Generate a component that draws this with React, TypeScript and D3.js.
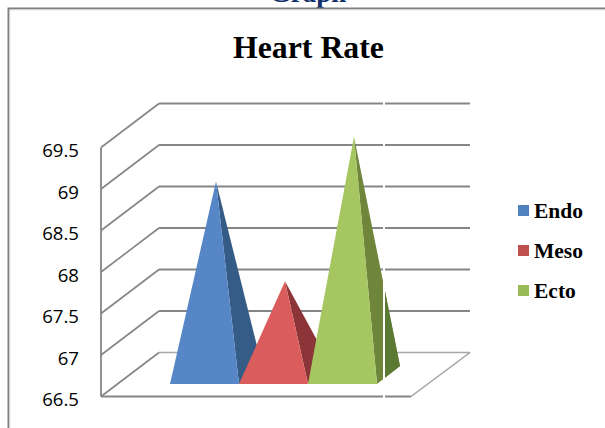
import * as d3 from "d3";

const categories = ["Endo", "Meso", "Ecto"];
const values = [68.83, 67.63, 69.37];
const yTicks = [66.5, 67, 67.5, 68, 68.5, 69, 69.5];
const tickLabels = ["66.5", "67", "67.5", "68", "68.5", "69", "69.5"];
const legendColors = ["#4F81BD", "#C0504D", "#9BBB59"];
const frontColors = ["#5686C6", "#DA5C5C", "#A5C660"];
const sideColors = ["#355B87", "#8B3538", "#6E853A"];

const width = 605;
const height = 428;

// 3d look: how far the back wall is shifted from the front axis
const wallDx = 58;
const wallDy = -44;
// same thing for the pyramid footprint
const baseDx = 23;
const baseDy = -18;
const baseY = 384;

const gridColor = "#858585";

export default function App() {
  const y = d3.scaleLinear().domain([66.5, 69.5]).range([396.5, 147.5]);
  const x = d3.scaleBand<string>().domain(categories).range([170, 377]).padding(0);
  const poly = d3.line<[number, number]>().curve(d3.curveLinearClosed);

  const axisX = 101;
  const backX = axisX + wallDx;
  const rightX = 470;
  const gapX = 384;

  // apex sits above the middle of the footprint
  const pyramids = categories.map((c, i) => {
    const x0 = x(c) as number;
    const x1 = x0 + x.bandwidth();
    const apexX = (x0 + x1) / 2 + baseDx / 2;
    const apexY = baseY + baseDy / 2 - (y(66.5) - y(values[i]));
    return {
      name: c,
      front: poly([[x0, baseY], [x1, baseY], [apexX, apexY]]) as string,
      side: poly([[x1, baseY], [x1 + baseDx, baseY + baseDy], [apexX, apexY]]) as string,
      frontColor: frontColors[i],
      sideColor: sideColors[i]
    };
  });

  return (
    <svg
      width={width}
      height={height}
      style={{ position: "absolute", left: 0, top: 0, background: "#fff" }}
    >
      <defs>
        <clipPath id="pastSeam">
          <rect x={gapX} y={0} width={width - gapX} height={height} />
        </clipPath>
      </defs>

      <text
        x={308}
        y={2}
        textAnchor="middle"
        fontFamily="Liberation Serif"
        fontWeight="bold"
        fontSize={27}
        fill="#10306B"
      >
        Graph
      </text>

      <path d={`M8.5,${height}V8.5H${width}`} fill="none" stroke="#808080" strokeWidth={2} />
      <path d={`M10,${height}V10H${width}`} fill="none" stroke="#E4E4E4" strokeWidth={1} />

      <text
        x={308.5}
        y={58}
        textAnchor="middle"
        fontFamily="Liberation Serif"
        fontWeight="bold"
        fontSize={31.8}
        fill="#000"
      >
        Heart Rate
      </text>

      {/* walls and gridlines */}
      <line x1={axisX} x2={axisX} y1={y(69.5)} y2={y(66.5)} stroke={gridColor} strokeWidth={1.8} />
      {yTicks.map((t, i) => (
        <g key={t}>
          <line
            x1={axisX}
            y1={y(t)}
            x2={backX}
            y2={y(t) + wallDy}
            stroke={gridColor}
            strokeWidth={1.6}
          />
          {i > 0 && (
            <line
              x1={backX}
              y1={y(t) + wallDy}
              x2={rightX}
              y2={y(t) + wallDy}
              stroke={gridColor}
              strokeWidth={2}
            />
          )}
          <text
            x={79}
            y={y(t) + 9.5}
            textAnchor="end"
            fontFamily="Open Sans"
            fontSize={18.6}
            fill="#000"
          >
            {tickLabels[i]}
          </text>
        </g>
      ))}
      <line x1={backX} y1={y(66.5) + wallDy} x2={rightX} y2={y(66.5) + wallDy} stroke="#A8A8A8" strokeWidth={1.5} />

      {/* floor */}
      <line x1={axisX} y1={y(66.5)} x2={411} y2={y(66.5)} stroke={gridColor} strokeWidth={2} />
      <line x1={411} y1={y(66.5)} x2={rightX} y2={y(66.5) + wallDy} stroke="#A0A0A0" strokeWidth={1.5} />

      {pyramids.map((p) => (
        <g key={p.name}>
          <path d={p.side} fill={p.sideColor} />
          <path d={p.front} fill={p.frontColor} />
        </g>
      ))}
      {/* last sliver of the Ecto side is darker past the seam */}
      <path d={pyramids[2].side} fill="#5A7A34" clipPath="url(#pastSeam)" />

      {/* white seam in the source picture */}
      <line x1={gapX} x2={gapX} y1={95} y2={405} stroke="#fff" strokeWidth={2} />

      {categories.map((c, i) => (
        <g key={c} transform={`translate(518,${205 + i * 40})`}>
          <rect width={11} height={11} fill={legendColors[i]} />
          <text
            x={16}
            y={13}
            fontFamily="Liberation Serif"
            fontWeight="bold"
            fontSize={21.5}
            fill="#000"
          >
            {c}
          </text>
        </g>
      ))}
    </svg>
  );
}
